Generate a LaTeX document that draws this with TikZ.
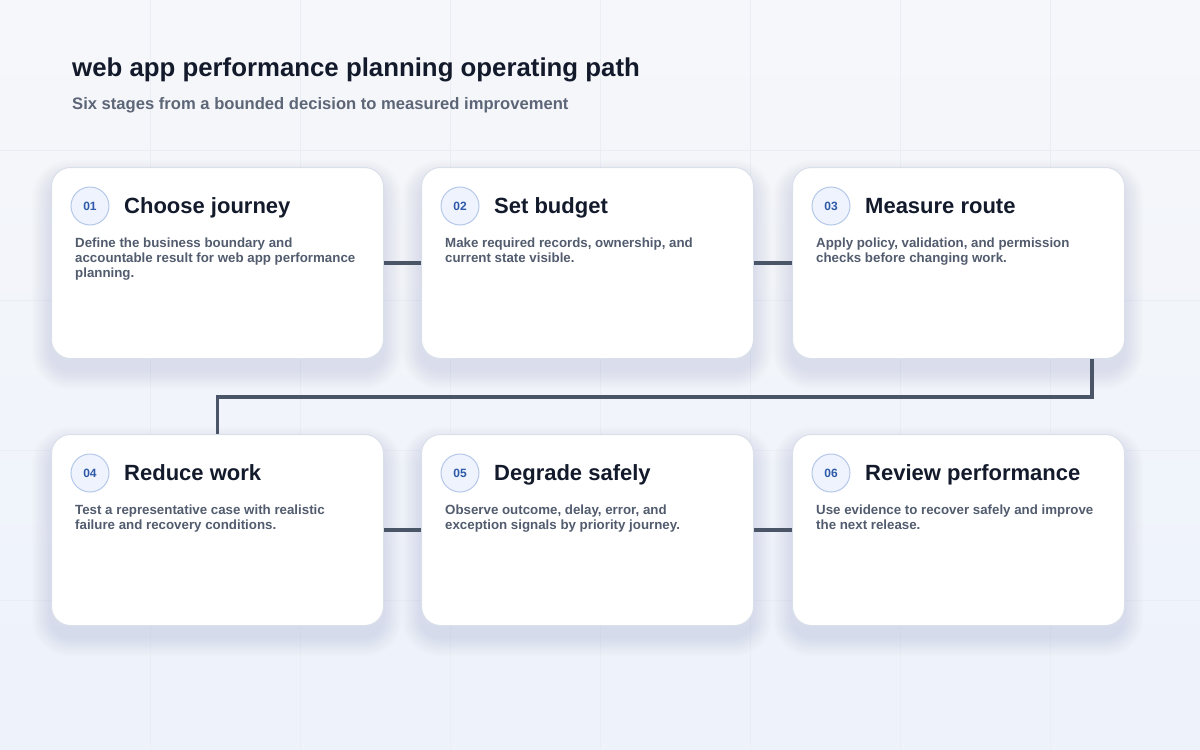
\documentclass[tikz,border=0pt]{standalone}
\usepackage{fontspec}
\setmainfont{Liberation Sans}
\usetikzlibrary{calc}
\pgfdeclarelayer{bgl}
\pgfdeclarelayer{shl}
\pgfsetlayers{bgl,shl,main}
\definecolor{bgtop}{HTML}{F6F7FA}
\definecolor{bgbot}{HTML}{EDF2FB}
\definecolor{gridc}{HTML}{EAEEF4}
\definecolor{titlec}{HTML}{131A2B}
\definecolor{subc}{HTML}{5D6677}
\definecolor{bodyc}{HTML}{525C6E}
\definecolor{cardline}{HTML}{DAE0EA}
\definecolor{badgefill}{HTML}{EEF3FD}
\definecolor{badgeline}{HTML}{B5C8EA}
\definecolor{badgetext}{HTML}{2D59A8}
\definecolor{linkc}{HTML}{4A5568}
\definecolor{shadowc}{HTML}{98A5C2}
\tikzset{
  stagecardbox/.style={rectangle, rounded corners=19pt, fill=white, draw=cardline, line width=1pt,
    minimum width=332pt, minimum height=191pt, anchor=north west, inner sep=0pt},
  badge/.style={circle, minimum size=38pt, inner sep=0pt, fill=badgefill, draw=badgeline,
    line width=1pt, text=badgetext, font=\fontsize{12}{14}\selectfont\bfseries},
  ctitle/.style={anchor=base west, inner sep=0pt, text=titlec, font=\fontsize{22}{26}\selectfont\bfseries},
  cbody/.style={anchor=north west, inner sep=0pt, align=left, text=bodyc, font=\fontsize{13.3}{15}\selectfont\bfseries},
  link/.style={draw=linkc, line width=3.5pt}
}
\newcommand\stagecard[6]{%
  \begin{pgfonlayer}{shl}
    \foreach \k in {1,...,12}{%
      \pgfmathsetmacro\rr{19+\k*1.6}%
      \fill[shadowc, opacity=0.018, rounded corners=\rr pt]
        (#2-\k*1.6, #3+12-\k*1.6) rectangle ++(332+\k*3.2, 191+\k*3.2);
    }
  \end{pgfonlayer}
  \node[stagecardbox] (#1) at (#2,#3) {};
  \node[badge] (#1b) at ($(#1.north west)+(39,39)$) {#4};
  \node[ctitle] (#1t) at ($(#1.north west)+(73,46)$) {#5};
  \node[cbody] (#1d) at ($(#1.north west)+(24,69.5)$) {\rule{0pt}{11pt}#6};
}
\begin{document}
\begin{tikzpicture}[x=1pt,y=-1pt]
\useasboundingbox (0,0) rectangle (1200,750);
\begin{pgfonlayer}{bgl}
  \shade[top color=bgtop, bottom color=bgbot] (0,0) rectangle (1200,750);
  \foreach \gx in {150,300,...,1050} \draw[gridc, line width=0.8pt] (\gx,0) -- (\gx,750);
  \foreach \gy in {150,300,...,600} \draw[gridc, line width=0.8pt] (0,\gy) -- (1200,\gy);
\end{pgfonlayer}

\node[anchor=base west, inner sep=0pt, text=titlec, font=\fontsize{25.8}{30}\selectfont\bfseries] (title) at (72,76.5) {web app performance planning operating path};
\node[anchor=base west, inner sep=0pt, text=subc, font=\fontsize{16.6}{20}\selectfont\bfseries] (subtitle) at (72,109.5) {Six stages from a bounded decision to measured improvement};

\stagecard{c1}{51}{167}{01}{Choose journey}{Define the business boundary and\\accountable result for web app performance\\planning.}
\stagecard{c2}{421}{167}{02}{Set budget}{Make required records, ownership, and\\current state visible.}
\stagecard{c3}{792}{167}{03}{Measure route}{Apply policy, validation, and permission\\checks before changing work.}
\stagecard{c4}{51}{434}{04}{Reduce work}{Test a representative case with realistic\\failure and recovery conditions.}
\stagecard{c5}{421}{434}{05}{Degrade safely}{Observe outcome, delay, error, and\\exception signals by priority journey.}
\stagecard{c6}{792}{434}{06}{Review performance}{Use evidence to recover safely and improve\\the next release.}

\draw[link] (c1.east) -- (c2.west);
\draw[link] (c2.east) -- (c3.west);
\coordinate (drop) at ($(c3.south east)+(-33,0)$);
\draw[link] (drop) -- ++(0,38) -| (c4.north);
\draw[link] (c4.east) -- (c5.west);
\draw[link] (c5.east) -- (c6.west);
\end{tikzpicture}
\end{document}
